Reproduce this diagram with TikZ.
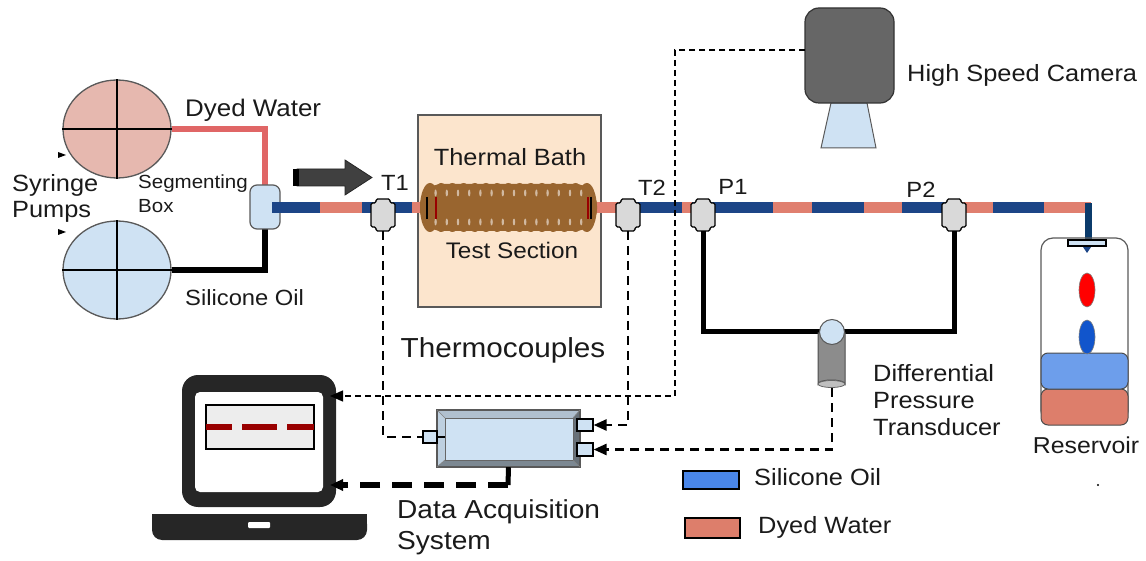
\documentclass[tikz,border=0pt]{standalone}
\usepackage{fontspec}
\setmainfont{Liberation Sans}[FakeStretch=1.08]
\usetikzlibrary{arrows.meta,calc,shapes.geometric}

\definecolor{pumppink}{HTML}{E6B8AF}
\definecolor{paleblue}{HTML}{CFE2F3}
\definecolor{waterline}{HTML}{E06666}
\definecolor{pipeblue}{HTML}{1C4587}
\definecolor{pipesalmon}{HTML}{E07F6F}
\definecolor{fitgray}{HTML}{D9D9D9}
\definecolor{bathfill}{HTML}{FCE5CD}
\definecolor{coilbrown}{HTML}{99652F}
\definecolor{camgray}{HTML}{666666}
\definecolor{legblue}{HTML}{4A86E8}
\definecolor{resblue}{HTML}{6D9EEB}
\definecolor{ressalmon}{HTML}{DD7E6B}
\definecolor{dropblue}{HTML}{1155CC}
\definecolor{laptopdark}{HTML}{262626}
\definecolor{screenred}{HTML}{990000}
\definecolor{navy}{HTML}{0B3B6B}
\definecolor{txt}{HTML}{1A1A1A}
\definecolor{edge}{HTML}{595959}

\newcommand{\fs}[1]{\fontsize{#1}{1.15\dimexpr#1pt\relax}\selectfont}

\tikzset{
  lbl/.style={font=\fs{23.5}, text=txt, inner sep=0pt, align=left},
  tag/.style={font=\fs{22}, text=txt, inner sep=0pt},
  pump/.style={ellipse, draw=edge, line width=1.3, minimum width=108pt, minimum height=98pt, inner sep=0pt},
  port/.style={draw=black, fill=paleblue, line width=1.2, inner sep=0pt},
  tcline/.style={line width=2.5, dash pattern=on 9pt off 6pt},
  camline/.style={line width=1.3, dash pattern=on 6pt off 4pt},
  daqline/.style={line width=6, dash pattern=on 20pt off 12pt},
  tip/.style={-{Triangle[length=13pt,width=11pt]}},
  pline/.style={line width=5, black},
  fitting/.pic={
    \draw[fill=fitgray, line width=1.3, rounded corners=1.5]
      (-7,-16) -- (7,-16) -- (7,-12) -- (12,-12) -- (12,12) -- (7,12) -- (7,16)
      -- (-7,16) -- (-7,12) -- (-12,12) -- (-12,-12) -- (-7,-12) -- cycle;
    \coordinate (-bot) at (0,16);
  }
}

\begin{document}
\begin{tikzpicture}[x=1pt,y=-1pt]
\useasboundingbox (0,0) rectangle (1146,561);

% ---------- syringe pumps ----------
\node[pump, fill=pumppink] (pumpW) at (117,129) {};
\node[pump, fill=paleblue] (pumpO) at (117,270) {};
\foreach \p in {pumpW,pumpO}{
  \draw[line width=1.2] (\p.north) -- (\p.south);
  \draw[line width=1.2] (\p.west) -- (\p.east);
}
\fill (58,152) -- (66,155) -- (58,158) -- cycle;
\fill (58,229) -- (66,232) -- (58,235) -- cycle;

% ---------- feed lines and segmenting box ----------
\coordinate (segc) at (265,207);
\draw[waterline, line width=6] (pumpW.east) -| ($(segc)+(0,-20)$);
\draw[black, line width=6] (pumpO.east) -| ($(segc)+(0,20)$);

% ---------- thermal bath ----------
\node[draw=edge, line width=1.3, fill=bathfill, minimum width=183pt, minimum height=192pt, inner sep=0pt] (bath) at (509.5,211) {};

% ---------- main pipe ----------
\foreach \a/\b/\c in {272/322/pipeblue, 320/362/pipesalmon, 362/412/pipeblue, 412/425/pipesalmon,
  592/620/pipesalmon, 620/682/pipeblue, 682/692/pipesalmon, 692/773/pipeblue,
  773/812/pipesalmon, 812/864/pipeblue, 864/902/pipesalmon, 902/960/pipeblue,
  960/993/pipesalmon, 993/1044/pipeblue, 1044/1091/pipesalmon}
  \draw[\c, line width=11] (\a,208) -- (\b,208);
\draw[navy, line width=7] (1088,203) -- (1088,241);

\node[draw=edge, line width=1.2, fill=paleblue, rounded corners=7, minimum width=30pt, minimum height=44pt, inner sep=0pt] (seg) at (segc) {};
\fill[pipeblue] (272,202.5) rectangle (281,213.5);

% ---------- coil ----------
\fill[coilbrown, rounded corners=22] (420,184) rectangle (597,231);
\foreach \i in {0,...,14}{
  \fill[coilbrown] ({430+\i*11.2},207.5) ellipse (10 and 24.5);
}
\foreach \i in {0,...,13}{
  \fill[white, opacity=0.55] ({435.6+\i*11.2},193) ellipse (1.2 and 3.5);
  \fill[white, opacity=0.55] ({435.6+\i*11.2},222) ellipse (1.2 and 3.5);
}
\draw[black, line width=1.8] (427,197) -- (427,219);
\draw[screenred, line width=1.5] (436,197) -- (436,219);
\draw[screenred, line width=1.5] (588,197) -- (588,219);
\draw[black, line width=1.5] (591,197) -- (591,219);

% ---------- fittings ----------
\pic (T1) at (383,215) {fitting};
\pic (T2) at (628,215) {fitting};
\pic (P1) at (703,215) {fitting};
\pic (P2) at (954,215) {fitting};

% ---------- flow arrow ----------
\fill[black!75, draw=black!85, line width=0.8] (297,169) -- (345,169) -- (345,160) -- (372,177.5)
  -- (345,195) -- (345,186) -- (297,186) -- cycle;
\fill[black] (293,169) rectangle (299,186);

% ---------- high speed camera ----------
\draw[fill=paleblue, draw=edge, line width=1] (831,103) -- (867,103) -- (876,148) -- (821,148) -- cycle;
\node[draw=black!80, fill=camgray, line width=1.2, rounded corners=14, minimum width=89pt, minimum height=95pt, inner sep=0pt] (cam) at (849.5,55.5) {};
\coordinate (camport) at (805,50);

% ---------- differential pressure transducer ----------
\coordinate (dptc) at (832,332);
\draw[pline] (P1-bot) |- (dptc) -| (P2-bot);
\draw[fill=black!45, draw=black!70, line width=1] (818,333) -- (818,384) arc[start angle=180, end angle=360, x radius=13.5, y radius=4] -- (845,333) -- cycle;
\draw[fill=black!25, draw=black!60, line width=0.8] (831.5,384) ellipse (13.5 and 3.5);
\node[circle, draw=edge, fill=paleblue, line width=1, minimum size=25pt, inner sep=0pt] (dpt) at (dptc) {};
\coordinate (dptbot) at (832,388);

% ---------- data acquisition box ----------
\node[minimum width=143pt, minimum height=57pt, inner sep=0pt] (daq) at (508.5,438.5) {};
\fill[black!15!paleblue] (437,410) -- (580,410) -- (573,418) -- (445,418) -- cycle;
\fill[black!8!paleblue] (437,410) -- (445,418) -- (445,460) -- (437,467) -- cycle;
\fill[black!40!paleblue] (437,467) -- (445,460) -- (573,460) -- (580,467) -- cycle;
\fill[black!50!paleblue] (580,410) -- (573,418) -- (573,460) -- (580,467) -- cycle;
\draw[fill=paleblue, draw=black!60, line width=0.8] (445,418) rectangle (573,460);
\draw[black!65, line width=1.2] (437,410) rectangle (580,467);
\draw[black!50, line width=0.6] (437,410) -- (445,418) (580,410) -- (573,418) (437,467) -- (445,460) (580,467) -- (573,460);
\node[port, minimum width=14pt, minimum height=12pt] (daqL) at (430,437) {};
\node[port, minimum width=16pt, minimum height=12pt] (daqR1) at (585,425) {};
\node[port, minimum width=16pt, minimum height=13pt] (daqR2) at (585,449.5) {};
\draw[line width=1.5] (daqL.east) -- (445,437);
\coordinate (daqs) at (508,485);
\draw[line width=5] (daq.south) -- (daqs);

% ---------- laptop ----------
\fill[laptopdark, rounded corners=16] (182,375) rectangle (336,507);
\fill[white, rounded corners=5] (195,392) rectangle (323,492);
\draw[fill=black!7, line width=1.2] (206,405) rectangle (314,449);
\draw[screenred, line width=6] (206,427) -- (232,427) (242,427) -- (277,427) (287,427) -- (314,427);
\fill[laptopdark, rounded corners=10] (152,514) -- (367,514) -- (367,540) -- (152,540) -- cycle;
\fill[laptopdark] (152,514) rectangle (367,524);
\fill[white, rounded corners=1] (248,522) rectangle (270,528);
\coordinate (lapin1) at (330,396);
\coordinate (lapin2) at (330,485);

% ---------- signal lines ----------
\draw[tcline] (T1-bot) |- (daqL.west);
\draw[tcline, tip] (T2-bot) |- (daqR1.east);
\draw[tcline, tip] (dptbot) |- (daqR2.east);
\draw[camline, tip] (camport) -| (675,396) -- (lapin1);
\draw[daqline, tip] (daqs) -- (lapin2);

% ---------- reservoir ----------
\draw[edge, line width=1.2, rounded corners=12] (1041,238) rectangle (1128,423);
\draw[fill=ressalmon, draw=black!70, line width=1, rounded corners=7] (1041,389) rectangle (1128,425);
\draw[fill=resblue, draw=black!70, line width=1, rounded corners=7] (1041,353) rectangle (1128,389);
\draw[fill=red, draw=black!50, line width=0.6] (1087,290) ellipse (8 and 17);
\draw[fill=dropblue, draw=black!50, line width=0.6] (1087,337) ellipse (8 and 17);
\fill[pipeblue] (1087,253) -- (1083,247) -- (1091,247) -- cycle;
\draw[fill=paleblue, line width=1.2] (1068,240) rectangle (1106,246);

% ---------- legend ----------
\draw[fill=legblue, line width=1.3] (683,471) rectangle (739,489);
\draw[fill=ressalmon, line width=1.3] (685,518) rectangle (740,538);
\fill (1098,485) circle (1.2);

% ---------- labels ----------
\node[lbl, anchor=west, font=\fs{24}] (lDW) at (185,110) {Dyed Water};
\node[lbl, anchor=west, font=\fs{22}] (lSO) at (185,298) {Silicone Oil};
\node[lbl, anchor=west, font=\fontsize{23.5}{26}\selectfont] (lSP) at (12,198) {Syringe\\Pumps};
\node[lbl, anchor=west, font=\fontsize{19}{24}\selectfont] (lSB) at (138,194) {Segmenting\\Box};
\node[tag] (lT1) at (395,183) {T1};
\node[tag] (lT2) at (652,188) {T2};
\node[tag] (lP1) at (733,187) {P1};
\node[tag] (lP2) at (921,190) {P2};
\node[lbl] (lTB) at (510,157) {Thermal Bath};
\node[lbl, font=\fs{22.5}] (lTS) at (512,250) {Test Section};
\node[lbl, font=\fs{27.5}] (lTC) at (503,350) {Thermocouples};
\node[lbl, anchor=west] (lHC) at (907,75) {High Speed Camera};
\node[lbl, anchor=west, font=\fontsize{23.5}{27}\selectfont] (lDP) at (873,400) {Differential\\Pressure\\Transducer};
\node[lbl, font=\fs{23}] (lRes) at (1086,445) {Reservoir};
\node[lbl, anchor=west, font=\fontsize{26}{31}\selectfont] (lDA) at (397,527) {Data Acquisition\\System};
\node[lbl, anchor=west] (lgSO) at (754,477) {Silicone Oil};
\node[lbl, anchor=west] (lgDW) at (758,527) {Dyed Water};
\end{tikzpicture}
\end{document}
